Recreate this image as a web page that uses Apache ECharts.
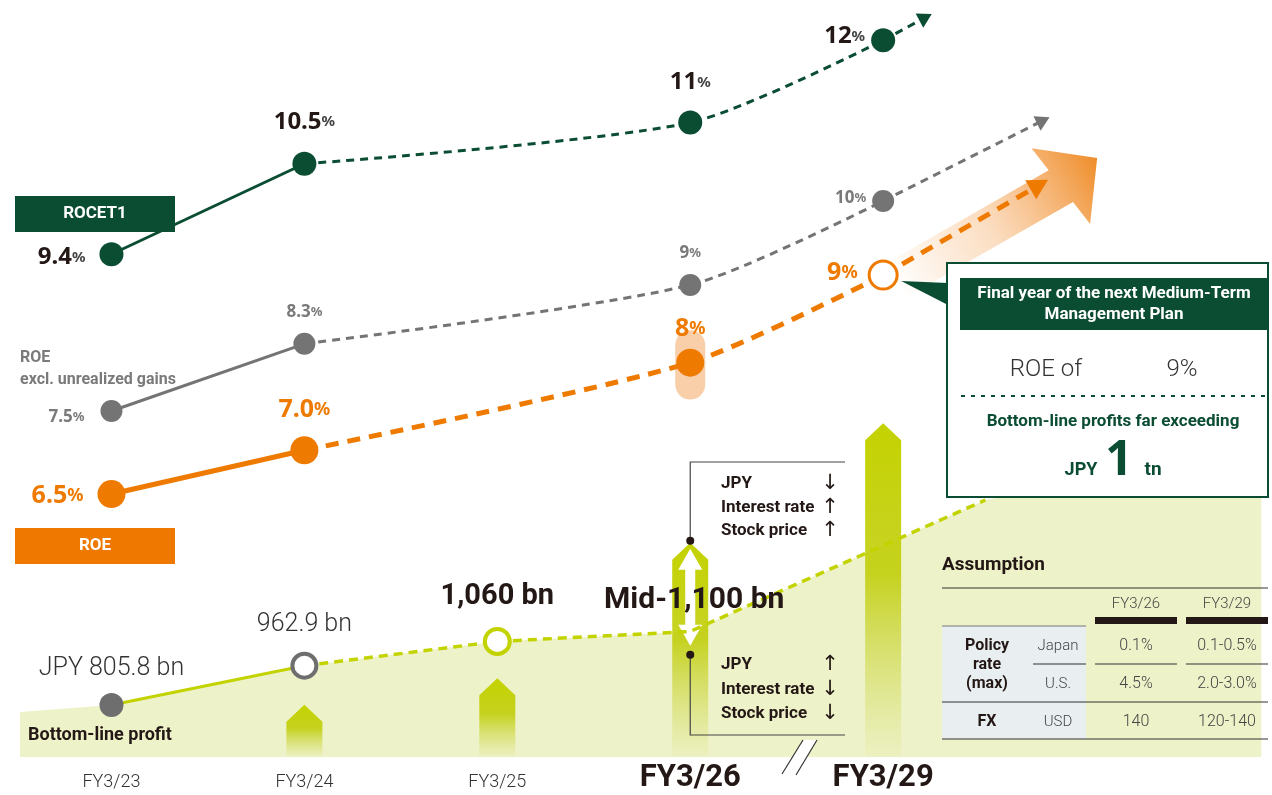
<!DOCTYPE html>
<html>
<head>
<meta charset="utf-8">
<script src="https://cdn.jsdelivr.net/npm/echarts@6/dist/echarts.min.js"></script>
<style>
  html, body { margin: 0; padding: 0; background: #fff; }
  #chart { width: 1272px; height: 795px; }
</style>
</head>
<body>
<div id="chart"></div>
<script>
// ---- data ----
const years = ['FY3/23', 'FY3/24', 'FY3/25', 'FY3/26', 'FY3/29'];
const rocet1 = [9.4, 10.5, null, 11, 12];
const roeExcl = [7.5, 8.3, null, 9, 10];
const roe = [6.5, 7.0, null, 8, 9];
const roeRange26 = [7.75, 8.2];
const profit = [805.8, 962.9, 1060, 1100, null];
const profitPrefix = ['JPY ', '', '', 'Mid-', ''];
// relative height of the growth arrows under each year
const growthArrows = [null, 6.9, 10.4, 28.3, 44.1];
const rangeMark = [false, false, false, true, false];
// trend continuation past the last plan year: [year index, value]
const rocetTip = [4.22, 12.28];
const roeExclTip = [4.83, 10.96];
const roeTip = [4.81, 10.03];
const profitLead = [-0.474, 777.8];
const profitTrail = [[4.53, 1625.8], [5.96, 1830]];
// FY3/26 scenarios
const upside = [['JPY', '\u2193'], ['Interest rate', '\u2191'], ['Stock price', '\u2191']];
const downside = [['JPY', '\u2191'], ['Interest rate', '\u2193'], ['Stock price', '\u2193']];
// assumption table
const assumptionCols = ['FY3/26', 'FY3/29'];
const policyJapan = ['0.1%', '0.1-0.5%'];
const policyUS = ['4.5%', '2.0-3.0%'];
const fxUSD = ['140', '120-140'];

// ---- styles ----
const COND = 'Roboto,"Liberation Sans",sans-serif';
const LIGHT = 'Roboto,"Liberation Sans",sans-serif';
const NUM = '"Noto Sans","Open Sans",sans-serif';
const GREEN = '#0b4d33', ORANGE = '#ef7a00', GREY = '#747474', LIME = '#c3d300', INK = '#231815';

const pts = (arr) => arr.map((v, i) => v == null ? null : [i, v]).filter(Boolean);
const pctFmt = (v, i) => (i < 2 ? v.toFixed(1) : String(v));

const chart = echarts.init(document.getElementById('chart'));

const hiddenY = (min, max) => ({ type: 'value', min, max, show: false, splitLine: { show: false } });

function rich(nSize, pSize, color, pColor) {
  return {
    n: { fontSize: nSize, fontWeight: 'bold', color, fontFamily: NUM },
    p: { fontSize: pSize, fontWeight: 'bold', color: pColor || color, fontFamily: NUM }
  };
}

const rocetPos = [['left', 14, [0, 3]], ['top', 18, [0, 0]], null, ['top', 16, [0, 0]], ['left', 6, [0, -4]]];
const exclPos = [['left', 16, [0, 6]], ['top', 12, [0, 0]], null, ['top', 12, [0, 0]], ['left', 6, [0, -3]]];
const roePos = [['left', 14, [0, 2]], ['top', 14, [0, 0]], null, ['top', 7, [0, 0]], ['left', 10, [0, -2]]];

function markerData(arr, pos, itemStyleFn) {
  return arr.map((v, i) => {
    if (v == null) return null;
    const p = pos[i];
    return {
      value: [i, v],
      itemStyle: itemStyleFn ? itemStyleFn(i) : undefined,
      label: { position: p[0], distance: p[1], offset: p[2] }
    };
  }).filter(Boolean);
}

const option = {
  animation: false,
  backgroundColor: '#fff',
  grid: { left: 15, width: 1261, top: 0, height: 757 },
  xAxis: [{
    type: 'value', min: -0.5, max: 6, interval: 0.5,
    axisLine: { show: false }, axisTick: { show: false }, splitLine: { show: false },
    axisLabel: {
      margin: 25, verticalAlign: 'middle', showMinLabel: true, showMaxLabel: true,
      formatter: (v) => {
        if (!Number.isInteger(v) || v < 0 || v >= years.length) return '';
        return v >= 3 ? '{b|' + years[v] + '}' : '{a|' + years[v] + '}';
      },
      rich: {
        a: { fontSize: 18, fontFamily: LIGHT, fontWeight: 300, color: '#333' },
        b: { fontSize: 31, fontFamily: COND, fontWeight: 'bold', color: INK, padding: [0, 0, 8, 0] }
      }
    }
  }],
  yAxis: [
    hiddenY(3.29, 12.49),    // ROCET1
    hiddenY(3.381, 12.393),  // ROE excl. unrealized gains
    hiddenY(3.498, 12.14),   // ROE
    hiddenY(597.8, 3625.8),  // bottom-line profit (JPY bn)
    hiddenY(0, 100)          // growth arrows
  ],
  series: [
    // profit area
    {
      type: 'line', yAxisIndex: 3, z: 1, symbol: 'none', silent: true,
      data: [profitLead].concat(pts(profit), profitTrail),
      lineStyle: { width: 0 },
      areaStyle: { color: '#eef2c8', opacity: 1 }
    },
    // growth arrows
    {
      type: 'custom', yAxisIndex: 4, z: 2, silent: true,
      data: pts(growthArrows),
      renderItem: (params, api) => {
        const x = api.value(0), h = api.value(1);
        const top = api.coord([x, h]);
        const base = api.coord([x, 0]);
        const cx = top[0], hw = 18, head = 17;
        const children = [{
          type: 'polygon',
          shape: { points: [[cx - hw, base[1]], [cx - hw, top[1] + head], [cx, top[1]], [cx + hw, top[1] + head], [cx + hw, base[1]]] },
          style: {
            fill: new echarts.graphic.LinearGradient(0, 0, 0, 1, [
              { offset: 0, color: 'rgba(196,210,0,1)' },
              { offset: 0.45, color: 'rgba(190,204,0,0.85)' },
              { offset: 1, color: 'rgba(200,212,60,0.05)' }
            ])
          }
        }];
        if (rangeMark[x]) {
          const y0 = top[1] + 6, y1 = top[1] + 103, hh = 21, ah = 12, sh = 5;
          children.push({
            type: 'polygon',
            shape: { points: [[cx, y0], [cx + ah, y0 + hh], [cx + sh, y0 + hh], [cx + sh, y1 - hh], [cx + ah, y1 - hh], [cx, y1],
              [cx - ah, y1 - hh], [cx - sh, y1 - hh], [cx - sh, y0 + hh], [cx - ah, y0 + hh]] },
            style: { fill: '#fff' }
          });
        }
        return { type: 'group', children };
      }
    },
    // profit lines
    {
      type: 'line', yAxisIndex: 3, z: 3, symbol: 'none', silent: true,
      data: pts(profit).slice(0, 2),
      lineStyle: { color: LIME, width: 3 }
    },
    {
      type: 'line', yAxisIndex: 3, z: 3, symbol: 'none', silent: true,
      data: pts(profit).slice(1).concat([profitTrail[0]]),
      lineStyle: { color: LIME, width: 3.5, type: [9, 6] }
    },
    // profit markers
    {
      type: 'scatter', yAxisIndex: 3, z: 5, silent: true,
      data: profit.map((v, i) => {
        if (v == null) return null;
        const styles = [
          { symbolSize: 24, itemStyle: { color: '#6e6e6e', opacity: 1 } },
          { symbolSize: 24, itemStyle: { color: '#fff', borderColor: '#6e6e6e', borderWidth: 4, opacity: 1 } },
          { symbolSize: 25, itemStyle: { color: '#fff', borderColor: LIME, borderWidth: 4, opacity: 1 } },
          { symbolSize: 0, itemStyle: { color: 'transparent' } }
        ];
        const lab = [
          { position: 'top', distance: 12, fontSize: 25, fontFamily: LIGHT, fontWeight: 300, color: '#333' },
          { position: 'top', distance: 14, fontSize: 25, fontFamily: LIGHT, fontWeight: 300, color: '#333' },
          { position: 'top', distance: 16, fontSize: 29, fontFamily: COND, fontWeight: 'bold', color: INK },
          { position: 'inside', offset: [4, -31], fontSize: 30, fontFamily: COND, fontWeight: 'bold', color: INK }
        ];
        return Object.assign({ value: [i, v], label: lab[i] }, styles[i]);
      }).filter(Boolean),
      label: {
        show: true, opacity: 1,
        formatter: (p) => profitPrefix[p.value[0]] + p.value[1].toLocaleString('en-US') + ' bn'
      }
    },
    // ROCET1
    {
      type: 'line', yAxisIndex: 0, z: 3, symbol: 'none', silent: true,
      data: pts(rocet1).slice(0, 2), lineStyle: { color: GREEN, width: 3 }
    },
    {
      type: 'line', yAxisIndex: 0, z: 3, symbol: 'none', silent: true, smooth: 0.25,
      data: pts(rocet1).slice(1), lineStyle: { color: GREEN, width: 3, type: [8, 6] },
      markLine: {
        silent: true, symbol: ['none', 'triangle'], symbolSize: [16, 14], label: { show: false },
        lineStyle: { color: GREEN, width: 3, type: [8, 6] },
        data: [[{ coord: [4, rocet1[4]] }, { coord: rocetTip }]]
      }
    },
    {
      type: 'scatter', yAxisIndex: 0, z: 5, silent: true, symbolSize: 24,
      itemStyle: { color: GREEN, opacity: 1 },
      data: markerData(rocet1, rocetPos),
      label: { show: true, opacity: 1, formatter: (p) => '{n|' + pctFmt(p.value[1], p.value[0]) + '}{p|%}', rich: rich(24, 15, INK, '#444') }
    },
    // ROE excl. unrealized gains
    {
      type: 'line', yAxisIndex: 1, z: 3, symbol: 'none', silent: true,
      data: pts(roeExcl).slice(0, 2), lineStyle: { color: GREY, width: 3 }
    },
    {
      type: 'line', yAxisIndex: 1, z: 3, symbol: 'none', silent: true, smooth: 0.25,
      data: pts(roeExcl).slice(1), lineStyle: { color: GREY, width: 3, type: [8, 6] },
      markLine: {
        silent: true, symbol: ['none', 'triangle'], symbolSize: [16, 14], label: { show: false },
        lineStyle: { color: GREY, width: 3, type: [8, 6] },
        data: [[{ coord: [4, roeExcl[4]] }, { coord: roeExclTip }]]
      }
    },
    {
      type: 'scatter', yAxisIndex: 1, z: 5, silent: true, symbolSize: 22,
      itemStyle: { color: GREY, opacity: 1 },
      data: markerData(roeExcl, exclPos),
      label: { show: true, opacity: 1, formatter: (p) => '{n|' + pctFmt(p.value[1], p.value[0]) + '}{p|%}', rich: rich(17, 13, '#7a7a7a') }
    },
    // ROE
    {
      type: 'line', yAxisIndex: 2, z: 3, symbol: 'none', silent: true,
      data: [[3, roeRange26[0]], [3, roeRange26[1]]],
      lineStyle: { color: '#f9cfaa', width: 30, cap: 'round' }
    },
    {
      type: 'line', yAxisIndex: 2, z: 3, symbol: 'none', silent: true,
      data: pts(roe).slice(0, 2), lineStyle: { color: ORANGE, width: 5 }
    },
    {
      type: 'line', yAxisIndex: 2, z: 4, symbol: 'none', silent: true, smooth: 0.25,
      data: pts(roe).slice(1), lineStyle: { color: ORANGE, width: 5, type: [13, 9] },
      markLine: {
        silent: true, symbol: ['none', 'triangle'], symbolSize: [22, 20], label: { show: false },
        lineStyle: { color: ORANGE, width: 5, type: [13, 9] },
        data: [[{ coord: [4, roe[4]] }, { coord: roeTip }]]
      }
    },
    {
      type: 'scatter', yAxisIndex: 2, z: 5, silent: true, symbolSize: 28,
      itemStyle: { color: ORANGE, opacity: 1 },
      data: markerData(roe, roePos, (i) => i === 4 ? { color: '#fff', borderColor: ORANGE, borderWidth: 3, opacity: 1 } : undefined),
      label: {
        show: true, opacity: 1,
        formatter: (p) => '{n|' + pctFmt(p.value[1], p.value[0]) + '}{p|%}',
        rich: rich(25, 18, ORANGE)
      }
    }
  ]
};

chart.setOption(option);

// ---- annotations tied to the plotted points ----
const toPx = (yi, pt) => chart.convertToPixel({ xAxisIndex: 0, yAxisIndex: yi }, pt);
const p9 = toPx(2, [4, roe[4]]);
const x26 = toPx(4, [3, 0])[0];
const tip26 = toPx(4, [3, growthArrows[3]]);

function text(x, y, t, o) {
  return {
    type: 'text', x, y, z: 50, silent: true,
    style: Object.assign({ text: t, fill: INK, fontSize: 17, fontFamily: COND, fontWeight: 'bold', align: 'left', verticalAlign: 'middle' }, o || {})
  };
}
const line = (pts, o) => ({ type: 'polyline', z: 49, silent: true, shape: { points: pts }, style: Object.assign({ stroke: '#444', lineWidth: 1.2, fill: null }, o || {}) });
const rect = (x, y, w, h, o) => ({ type: 'rect', z: 48, silent: true, shape: { x, y, width: w, height: h }, style: o });

// big orange trend arrow beyond the final plan year
const ux = 0.79, uy = -0.61, nx = 0.61, ny = 0.79;
const tip = [p9[0] + 214, p9[1] - 117];
const tail = [p9[0] + 12, p9[1] + 6];
const hb = [tip[0] - ux * 46, tip[1] - uy * 46];
const sw = 20, hwd = 48;
const bigArrow = {
  type: 'polygon', z: 1, silent: true,
  shape: { points: [
    [tail[0] + nx * sw, tail[1] + ny * sw], [hb[0] + nx * sw, hb[1] + ny * sw], [hb[0] + nx * hwd, hb[1] + ny * hwd],
    tip, [hb[0] - nx * hwd, hb[1] - ny * hwd], [hb[0] - nx * sw, hb[1] - ny * sw], [tail[0] - nx * sw, tail[1] - ny * sw]
  ] },
  style: {
    fill: { type: 'linear', global: true, x: tail[0], y: tail[1], x2: tip[0], y2: tip[1],
      colorStops: [{ offset: 0, color: 'rgba(244,150,60,0)' }, { offset: 0.45, color: 'rgba(244,160,80,0.35)' }, { offset: 1, color: 'rgba(238,135,30,0.95)' }] }
  }
};

const g = [bigArrow];

// legend tags
g.push(rect(15, 196, 160, 36, { fill: GREEN }), text(95, 214, 'ROCET1', { fill: '#fff', align: 'center' }));
g.push(rect(15, 528, 160, 36, { fill: '#ef7800' }), text(95, 546, 'ROE', { fill: '#fff', align: 'center' }));
g.push(text(20, 358, 'ROE', { fill: '#7a7a7a', fontSize: 16 }), text(20, 380, 'excl. unrealized gains', { fill: '#7a7a7a', fontSize: 16 }));
g.push(text(28, 735, 'Bottom-line profit', { fontSize: 18 }));

// FY3/26 scenario brackets
const upTop = 462, upDot = tip26[1] - 2, dnDot = tip26[1] + 112, dnBot = 735;
g.push(line([[x26, upDot], [x26, upTop], [845, upTop]]));
g.push(line([[x26, dnDot], [x26, dnBot], [845, dnBot]]));
g.push({ type: 'circle', z: 49, silent: true, shape: { cx: x26, cy: upDot, r: 4 }, style: { fill: INK } });
g.push({ type: 'circle', z: 49, silent: true, shape: { cx: x26, cy: dnDot, r: 4 }, style: { fill: INK } });
const arrowGlyph = { align: 'center', fontFamily: '"DejaVu Sans",sans-serif', fontWeight: 'normal', fontSize: 21 };
upside.forEach((r, i) => {
  g.push(text(721, 484 + 23.5 * i, r[0]), text(830, 484 + 23.5 * i, r[1], arrowGlyph));
});
downside.forEach((r, i) => {
  g.push(text(721, 665 + 24.5 * i, r[0]), text(830, 665 + 24.5 * i, r[1], arrowGlyph));
});

// axis break between FY3/26 and FY3/29
g.push({ type: 'polygon', z: 48, silent: true, shape: { points: [[782, 774], [803, 740], [817, 740], [796, 775]] }, style: { fill: '#fff' } });
g.push(line([[782, 774], [803, 740]], { stroke: '#333' }), line([[796, 775], [817, 740]], { stroke: '#333' }));

// callout: final year of the next Medium-Term Management Plan
g.push(rect(947, 263, 321, 234, { fill: '#fff', stroke: GREEN, lineWidth: 2 }));
g.push({ type: 'polygon', z: 49, silent: true, shape: { points: [[p9[0] + 18, p9[1] + 6], [948, 283], [948, 305]] }, style: { fill: GREEN } });
g.push(rect(960, 278, 307, 52, { fill: GREEN }));
g.push(text(1114, 294, 'Final year of the next Medium-Term', { fill: '#fff', align: 'center', fontSize: 17 }));
g.push(text(1114, 315, 'Management Plan', { fill: '#fff', align: 'center', fontSize: 17 }));
g.push(text(1046, 370, 'ROE of', { align: 'center', fontFamily: LIGHT, fontWeight: 300, fontSize: 24, fill: '#333' }));
g.push(text(1182, 370, roe[4] + '%', { align: 'center', fontFamily: LIGHT, fontWeight: 300, fontSize: 24, fill: '#333' }));
g.push(line([[961, 396], [1266, 396]], { stroke: GREEN, lineWidth: 2, lineDash: [4, 6] }));
g.push(text(1113, 422, 'Bottom-line profits far exceeding', { align: 'center', fill: GREEN, fontSize: 17 }));
g.push(text(1081, 470, 'JPY', { align: 'center', fill: GREEN, fontSize: 18 }));
g.push(text(1119, 461, '1', { align: 'center', fill: GREEN, fontSize: 48, fontFamily: NUM }));
g.push(text(1153, 470, 'tn', { align: 'center', fill: GREEN, fontSize: 19 }));

// assumption table
g.push(text(942, 565, 'Assumption', { fontSize: 19 }));
g.push(line([[942, 588], [1268, 588]], { stroke: '#333' }));
assumptionCols.forEach((c, j) => {
  const cx = [1136, 1227][j];
  const x0 = [1095, 1186][j];
  g.push(text(cx, 604, c, { align: 'center', fontFamily: LIGHT, fontWeight: 300, fontSize: 15, fill: '#444' }));
  g.push(rect(x0, 617, 82, 7, { fill: INK }));
  g.push(line([[x0, 664], [x0 + 82, 664]], { stroke: '#333' }));
  [policyJapan[j], policyUS[j], fxUSD[j]].forEach((v, r) => {
    g.push(text(cx, [646, 684, 722][r], v, { align: 'center', fontFamily: LIGHT, fontWeight: 300, fontSize: 16, fill: '#444' }));
  });
});
g.push(rect(942, 626, 144, 113, { fill: '#e9eff1' }));
g.push(line([[942, 626], [1086, 626]], { stroke: '#777' }));
g.push(line([[1033, 664], [1086, 664]], { stroke: '#333' }));
g.push(line([[942, 702], [1268, 702]], { stroke: '#333' }));
g.push(line([[942, 739], [1268, 739]], { stroke: '#333' }));
g.push(text(987, 646, 'Policy', { align: 'center', fontSize: 16 }));
g.push(text(987, 665, 'rate', { align: 'center', fontSize: 16 }));
g.push(text(987, 684, '(max)', { align: 'center', fontSize: 16 }));
g.push(text(987, 722, 'FX', { align: 'center', fontSize: 16 }));
g.push(text(1058, 646, 'Japan', { align: 'center', fontFamily: LIGHT, fontWeight: 300, fontSize: 15, fill: '#444' }));
g.push(text(1058, 684, 'U.S.', { align: 'center', fontFamily: LIGHT, fontWeight: 300, fontSize: 15, fill: '#444' }));
g.push(text(1058, 722, 'USD', { align: 'center', fontFamily: LIGHT, fontWeight: 300, fontSize: 15, fill: '#444' }));

chart.setOption({ graphic: { elements: g } });
</script>
</body>
</html>
